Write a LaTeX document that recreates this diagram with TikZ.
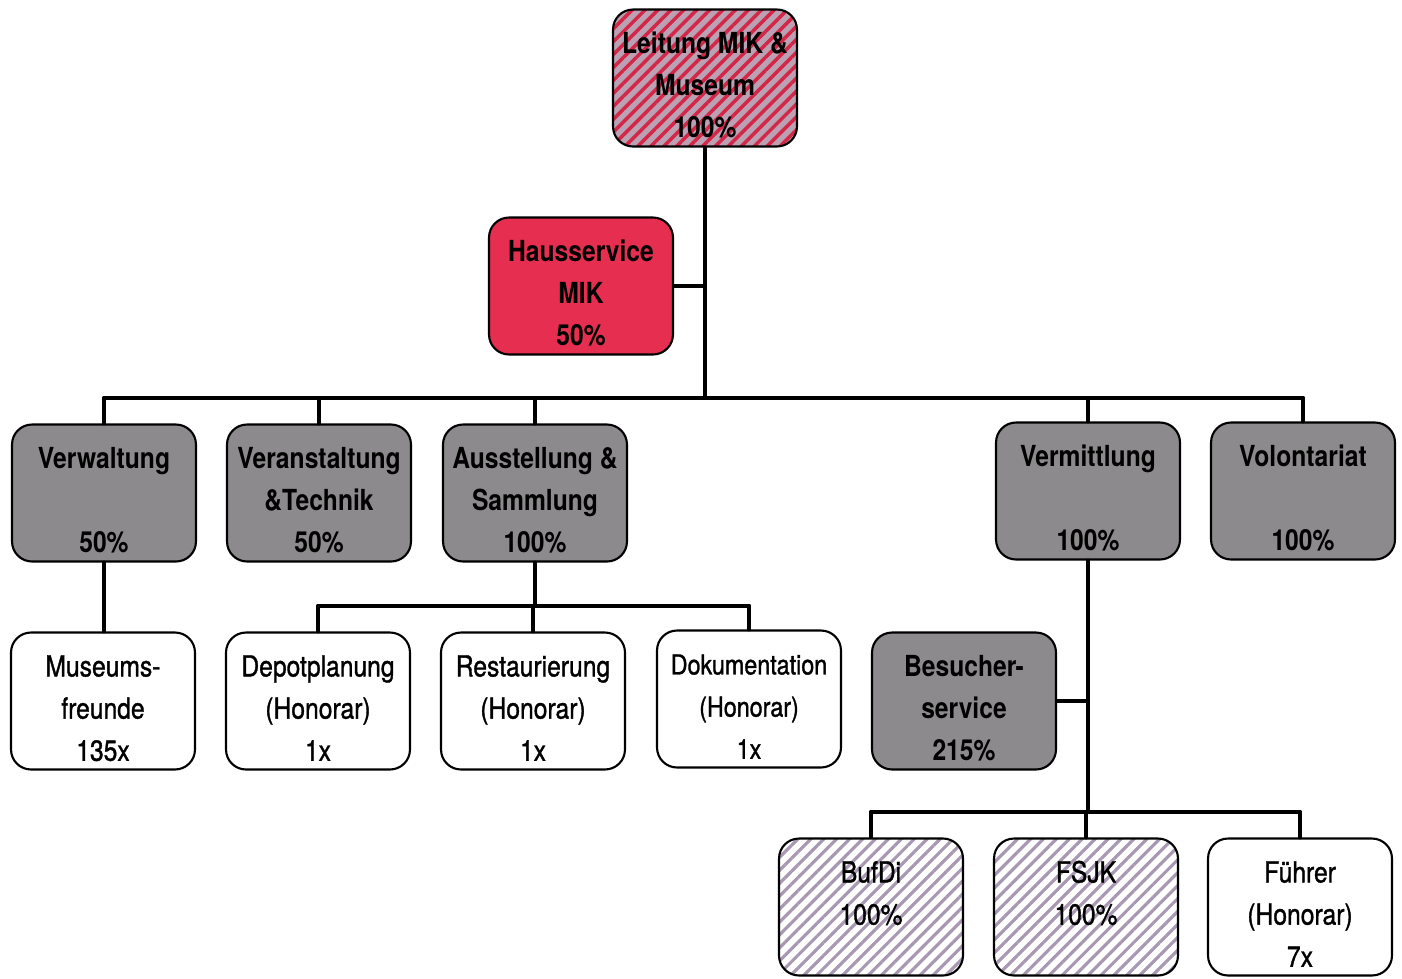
\documentclass[tikz,border=0pt]{standalone}
\usepackage{fontspec}
\setmainfont{TeX Gyre Heros}[FakeStretch=0.85]
\newfontfamily\mittel{TeX Gyre Heros}[FakeStretch=0.85, FakeBold=1.2]
\usetikzlibrary{patterns.meta}
\definecolor{boxgray}{RGB}{140,138,140}
\definecolor{mikred}{RGB}{230,46,80}
\definecolor{hatchbg}{RGB}{186,162,180}
\definecolor{hatchred}{RGB}{212,38,70}
\definecolor{hatchlila}{RGB}{168,152,178}
\begin{document}
\begin{tikzpicture}[x=0.02cm, y=-0.02cm, line join=round, line cap=round,
	box/.style={draw=black, line width=1.2pt, rounded corners=0.4cm, minimum width=3.68cm, minimum height=2.74cm, inner sep=0pt, align=center, text height=69pt, text depth=1pt, font=\fontsize{16.5}{24}\selectfont\bfseries},
	grau/.style={box, fill=boxgray},
	weiss/.style={box, fill=white, font=\fontsize{16.5}{24}\selectfont\mittel},
	leitung/.style={box, preaction={fill=hatchbg}, pattern={Lines[angle=45, distance=5.2pt, line width=2pt]}, pattern color=hatchred},
	frei/.style={box, font=\fontsize{16.5}{24}\selectfont\mittel, preaction={fill=white}, pattern={Lines[angle=45, distance=5.2pt, line width=1.8pt]}, pattern color=hatchlila},
	conn/.style={line width=2.3pt}]
	\useasboundingbox (0,0) rectangle (1402,978);
	% Leitung und Stab
	\node[leitung] (leit) at (705,78) {Leitung MIK \&\\Museum\\100\%};
	\node[box, fill=mikred] (haus) at (581,286) {Hausservice\\MIK\\50\%};
	% Abteilungen
	\node[grau] (verw) at (104,493) {Verwaltung\\~\\50\%};
	\node[grau] (vera) at (319,493) {Veranstaltung\\\&Technik\\50\%};
	\node[grau] (auss) at (535,493) {Ausstellung \&\\Sammlung\\100\%};
	\node[grau] (verm) at (1088,491) {Vermittlung\\~\\100\%};
	\node[grau] (volo) at (1303,491) {Volontariat\\~\\100\%};
	% dritte Ebene
	\node[weiss] (muse) at (103,701) {Museums-\\freunde\\135x};
	\node[weiss] (depo) at (318,701) {Depotplanung\\(Honorar)\\1x};
	\node[weiss] (rest) at (533,701) {Restaurierung\\(Honorar)\\1x};
	\node[weiss, font=\fontsize{15.6}{24}\selectfont\mittel] (doku) at (749,699) {Dokumentation\\(Honorar)\\1x};
	\node[grau] (besu) at (964,701) {Besucher-\\service\\215\%};
	% vierte Ebene
	\node[frei] (bufd) at (871,907) {BufDi\\100\%\\~};
	\node[frei] (fsjk) at (1086,907) {FSJK\\100\%\\~};
	\node[weiss] (fueh) at (1300,907) {F\"uhrer\\(Honorar)\\7x};
	% Linien
	\coordinate (bus) at (705,398);
	\coordinate (bus2) at (535,606);
	\coordinate (bus3) at (1088,812);
	\draw[conn] (leit.south) -- (bus) (haus.east) -- (haus.east -| bus);
	\draw[conn] (verw.north |- bus) -- (volo.north |- bus);
	\foreach \n in {verw,vera,auss,verm,volo} \draw[conn] (\n.north) -- (\n.north |- bus);
	\draw[conn] (verw.south) -- (muse.north -| verw.south);
	\draw[conn] (auss.south) -- (bus2) (depo.north |- bus2) -- (doku.north |- bus2);
	\foreach \n in {depo,rest,doku} \draw[conn] (\n.north) -- (\n.north |- bus2);
	\draw[conn] (verm.south) -- (bus3) (besu.east) -- (besu.east -| bus3);
	\draw[conn] (bufd.north |- bus3) -- (fueh.north |- bus3);
	\foreach \n in {bufd,fsjk,fueh} \draw[conn] (\n.north) -- (\n.north |- bus3);
\end{tikzpicture}
\end{document}
